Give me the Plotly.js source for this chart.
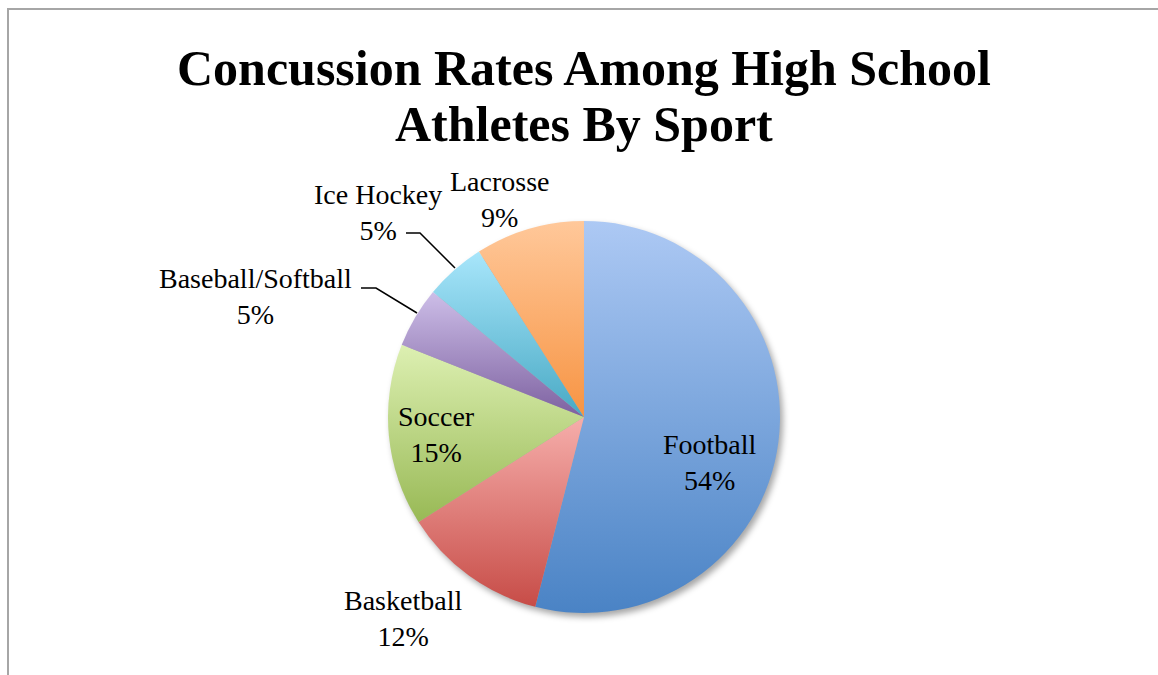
<!DOCTYPE html>
<html>
<head>
<meta charset="utf-8">
<script src="https://cdn.plot.ly/plotly-3.0.1.min.js"></script>
<style>
  html, body { margin: 0; padding: 0; background: #fff; }
  #chart { width: 1158px; height: 675px; position: absolute; left: 0; top: 0; }
  #frame { position: absolute; left: 7px; top: 8px; width: 1200px; height: 700px;
           border-left: 2px solid #a6a6a6; border-top: 2px solid #a6a6a6; pointer-events: none; }
  .pielayer { filter: drop-shadow(3px 4px 3px rgba(0,0,0,0.35)); }
</style>
</head>
<body>
<div id="chart"></div>
<div id="frame"></div>
<script>
// ---- data ----
const titleLines = ["Concussion Rates Among High School", "Athletes By Sport"];
const sports = ["Football", "Basketball", "Soccer", "Baseball/Softball", "Ice Hockey", "Lacrosse"];
const rates = [54, 12, 15, 5, 5, 9];
const sliceColors = ["#7ba5de", "#e17c78", "#bcd685", "#a48cc4", "#79cbe6", "#fbad6e"];
const gradTop = ["#adc9f4", "#f6aeab", "#ddf0b2", "#cdbee8", "#a8e6fb", "#ffc89a"];
const gradBottom = ["#4a83c5", "#c74c47", "#98b955", "#7d61a0", "#48a9c4", "#f79443"];

// ---- layout helpers (pixel -> paper) ----
const W = 1158, H = 675;
const px = (x) => x / W;
const py = (y) => 1 - y / H;
const cx = 584, cy = 417, R = 196;

// label placement (pixel positions of label block centers)
const labelPos = [[710, 462], [403, 618], [436, 434], [255, 297], [378, 212], [500, 199]];
const serif = "Liberation Serif, Times New Roman, serif";
const labelFont = { family: serif, size: 28, color: "#000" };
const titleFont = { family: serif, size: 50, color: "#000", weight: "bold" };

const annotations = sports.map((s, i) => ({
  text: s + "<br>" + rates[i] + "%",
  x: px(labelPos[i][0]), y: py(labelPos[i][1]),
  xref: "paper", yref: "paper", xanchor: "center", yanchor: "middle",
  showarrow: false, font: labelFont, align: "center"
}));
annotations.push({
  text: titleLines[1], x: px(584), y: py(124), xref: "paper", yref: "paper",
  xanchor: "center", yanchor: "middle", showarrow: false, font: titleFont
});

function pathPx(pts) {
  return pts.map((p, i) => (i ? "L" : "M") + px(p[0]) + "," + py(p[1])).join(" ");
}
const shapes = [
  { type: "path", xref: "paper", yref: "paper",
    path: pathPx([[406, 233], [420, 233], [455, 268]]), line: { color: "#000", width: 1.5 } },
  { type: "path", xref: "paper", yref: "paper",
    path: pathPx([[361, 288], [376, 288], [417, 313]]), line: { color: "#000", width: 1.5 } }
];

const trace = {
  type: "pie",
  labels: sports,
  values: rates,
  sort: false,
  direction: "clockwise",
  rotation: 0,
  textinfo: "none",
  hoverinfo: "label+percent",
  marker: { colors: sliceColors, line: { width: 0 } },
  domain: { x: [px(cx - R), px(cx + R)], y: [py(cy + R), py(cy - R)] }
};

const layout = {
  width: W, height: H,
  margin: { l: 0, r: 0, t: 0, b: 0 },
  paper_bgcolor: "#fff",
  showlegend: false,
  title: {
    text: titleLines[0],
    font: titleFont,
    x: px(584), xanchor: "center",
    y: py(67), yanchor: "middle", yref: "paper"
  },
  annotations: annotations,
  shapes: shapes
};

Plotly.newPlot("chart", [trace], layout, { displayModeBar: false, staticPlot: true }).then(() => {
  const svg = document.querySelector("#chart .main-svg");
  const NS = "http://www.w3.org/2000/svg";
  let defs = svg.querySelector("defs");
  if (!defs) { defs = document.createElementNS(NS, "defs"); svg.insertBefore(defs, svg.firstChild); }
  sports.forEach((s, i) => {
    const g = document.createElementNS(NS, "linearGradient");
    g.setAttribute("id", "slicegrad" + i);
    g.setAttribute("x1", "0"); g.setAttribute("y1", "0");
    g.setAttribute("x2", "0"); g.setAttribute("y2", "1");
    const s1 = document.createElementNS(NS, "stop");
    s1.setAttribute("offset", "0"); s1.setAttribute("stop-color", gradTop[i]);
    const s2 = document.createElementNS(NS, "stop");
    s2.setAttribute("offset", "1"); s2.setAttribute("stop-color", gradBottom[i]);
    g.appendChild(s1); g.appendChild(s2);
    defs.appendChild(g);
  });
  const paths = document.querySelectorAll("#chart .pielayer path.surface");
  paths.forEach((p, i) => { p.style.fill = "url(#slicegrad" + i + ")"; });
});
</script>
</body>
</html>
